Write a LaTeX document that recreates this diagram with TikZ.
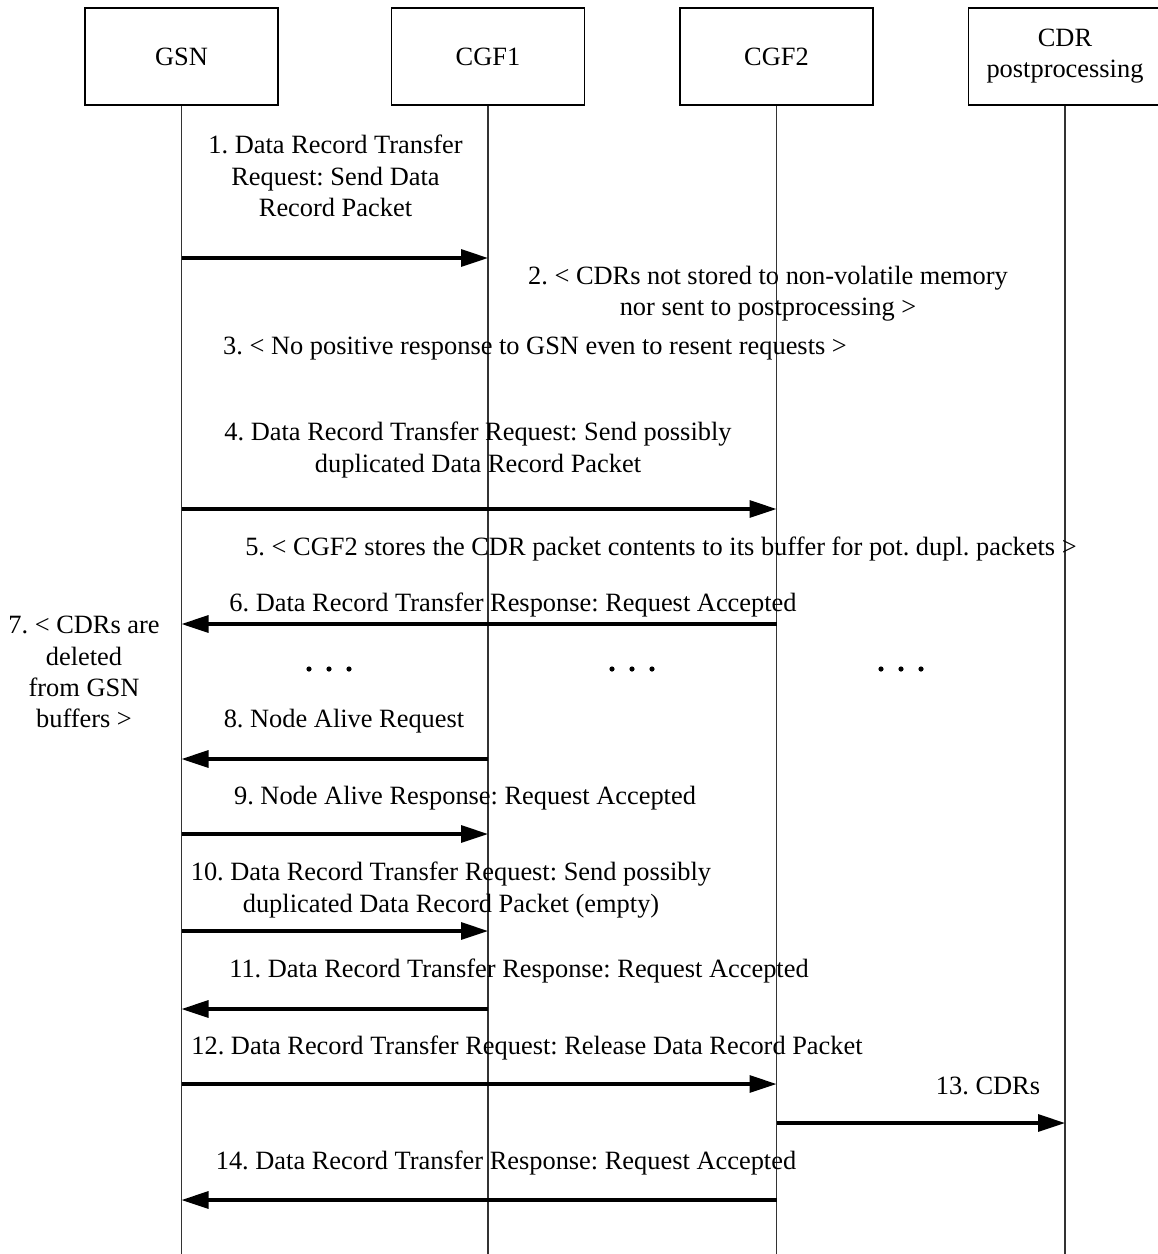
\documentclass[tikz,border=0pt]{standalone}
\usepackage{fontspec}
\setmainfont{Liberation Serif}
\usetikzlibrary{arrows.meta}
\frenchspacing
\begin{document}
\begin{tikzpicture}[x=1pt,y=-1pt,
  every node/.style={font=\frenchspacing\fontsize{26.4}{31.2}\selectfont, inner sep=0pt, align=center},
  entity/.style={draw, line width=1.8pt, minimum width=193pt, minimum height=97pt},
  life/.style={line width=1.3pt, black!80},
  msg/.style={line width=3.2pt, -{Triangle[length=27pt,width=17pt]}},
  dotc/.style={fill=black}]
\useasboundingbox (0,0) rectangle (1158,1254);
% entities
\node[entity] (gsn) at (181.5,56.5) {GSN};
\node[entity] (cgf1) at (488,56.5) {CGF1};
\node[entity] (cgf2) at (776.5,56.5) {CGF2};
\node[entity] (cdr) at (1065,56.5) {CDR\\postprocessing};
% lifeline ends
\coordinate (gsnE) at (gsn.south |- 0,1254);
\coordinate (cgf1E) at (cgf1.south |- 0,1254);
\coordinate (cgf2E) at (cgf2.south |- 0,1254);
\coordinate (cdrE) at (cdr.south |- 0,1254);
\draw[life] (gsn.south) -- (gsnE);
\draw[life] (cgf1.south) -- (cgf1E);
\draw[life] (cgf2.south) -- (cgf2E);
\draw[life] (cdr.south) -- (cdrE);
% messages
\node (t1) at (335.5,176) {1. Data Record Transfer\\Request: Send Data\\Record Packet};
\draw[msg] (gsn.south |- 0,258) -- (cgf1.south |- 0,258);
\node (t2) at (768,294) {2. {\char`<} CDRs not stored to non-volatile memory\\nor sent to postprocessing {\char`>}};
\node (t3) at (535,349) {3. {\char`<} No positive response to GSN even to resent requests {\char`>}};
\node (t4) at (478,450) {4. Data Record Transfer Request: Send possibly\\duplicated Data Record Packet};
\draw[msg] (gsn.south |- 0,509) -- (cgf2.south |- 0,509);
\node (t5) at (661,549) {5. {\char`<} CGF2 stores the CDR packet contents to its buffer for pot. dupl. packets {\char`>}};
\node (t6) at (513,605) {6. Data Record Transfer Response: Request Accepted};
\draw[msg] (cgf2.south |- 0,624) -- (gsn.south |- 0,624);
\node (t7) at (84,672) {7. {\char`<} CDRs are\\deleted\\from GSN\\buffers {\char`>}};
% dots
\foreach \cx in {329,632,901}{
  \fill[dotc] (\cx-20,669) circle (2.6pt);
  \fill[dotc] (\cx,669) circle (2.6pt);
  \fill[dotc] (\cx+20,669) circle (2.6pt);
}
\node (t8) at (344,721) {8. Node Alive Request};
\draw[msg] (cgf1.south |- 0,759) -- (gsn.south |- 0,759);
\node (t9) at (465,798) {9. Node Alive Response: Request Accepted};
\draw[msg] (gsn.south |- 0,834) -- (cgf1.south |- 0,834);
\node (t10) at (451,890) {10. Data Record Transfer Request: Send possibly\\duplicated Data Record Packet (empty)};
\draw[msg] (gsn.south |- 0,931) -- (cgf1.south |- 0,931);
\node (t11) at (519,971) {11. Data Record Transfer Response: Request Accepted};
\draw[msg] (cgf1.south |- 0,1009) -- (gsn.south |- 0,1009);
\node (t12) at (527,1048) {12. Data Record Transfer Request: Release Data Record Packet};
\draw[msg] (gsn.south |- 0,1084) -- (cgf2.south |- 0,1084);
\node (t13) at (988,1086) {13. CDRs};
\draw[msg] (cgf2.south |- 0,1123) -- (cdr.south |- 0,1123);
\node (t14) at (506,1163) {14. Data Record Transfer Response: Request Accepted};
\draw[msg] (cgf2.south |- 0,1200) -- (gsn.south |- 0,1200);
\end{tikzpicture}
\end{document}
